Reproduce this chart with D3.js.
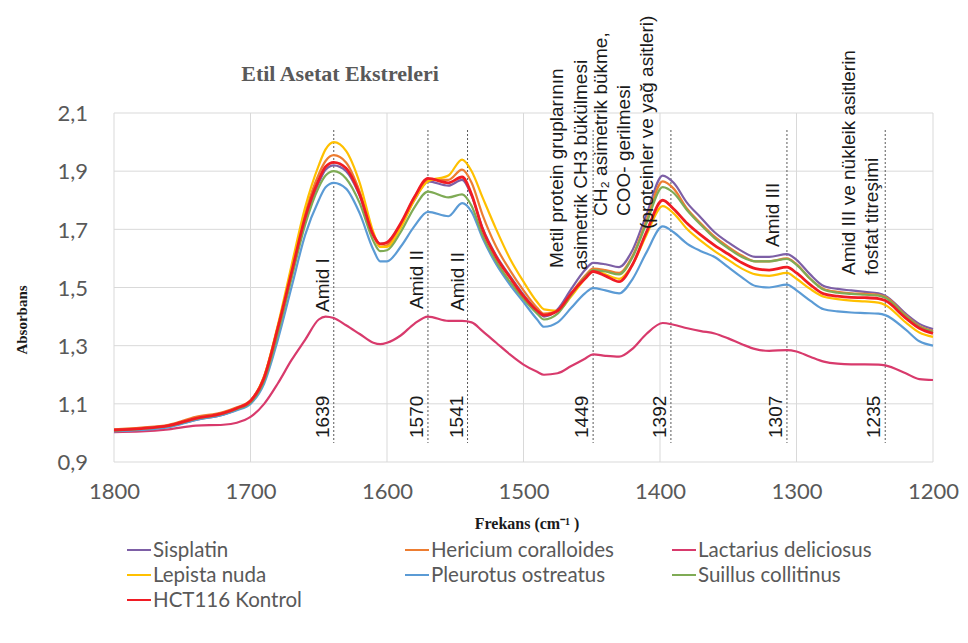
<!DOCTYPE html>
<html>
<head>
<meta charset="utf-8">
<script src="https://cdn.jsdelivr.net/npm/d3@7"></script>
<style>
  body { margin: 0; background: #fff; }
  svg { display: block; }
</style>
</head>
<body>
<svg width="968" height="643"></svg>
<script>
// wavenumbers (cm-1)
var frekans = [1800, 1780, 1760, 1740, 1720, 1710, 1700, 1690, 1680, 1670, 1660, 1650, 1645, 1639,
  1630, 1620, 1610, 1605, 1600, 1590, 1580, 1570, 1555, 1545, 1538, 1530, 1520, 1510, 1500, 1490,
  1485, 1475, 1465, 1455, 1449, 1440, 1430, 1420, 1410, 1398, 1390, 1380, 1370, 1360, 1350, 1340,
  1330, 1320, 1307, 1300, 1290, 1280, 1270, 1260, 1250, 1240, 1235, 1220, 1210, 1200];

var sisplatin = [1.005, 1.012, 1.022, 1.045, 1.063, 1.080, 1.105, 1.185, 1.350, 1.540, 1.730, 1.860, 1.905, 1.920,
  1.900, 1.815, 1.680, 1.650, 1.655, 1.715, 1.800, 1.865, 1.850, 1.870, 1.815, 1.705, 1.610, 1.540, 1.475, 1.420,
  1.400, 1.425, 1.495, 1.560, 1.585, 1.580, 1.570, 1.630, 1.750, 1.885, 1.860, 1.790, 1.740, 1.690, 1.655, 1.625,
  1.605, 1.605, 1.615, 1.595, 1.545, 1.505, 1.495, 1.490, 1.485, 1.480, 1.472, 1.410, 1.375, 1.357];

var hericium = [1.012, 1.018, 1.028, 1.055, 1.072, 1.088, 1.112, 1.195, 1.365, 1.560, 1.755, 1.890, 1.935, 1.955,
  1.930, 1.830, 1.680, 1.640, 1.645, 1.715, 1.810, 1.870, 1.870, 1.905, 1.860, 1.750, 1.640, 1.560, 1.490, 1.430,
  1.410, 1.420, 1.480, 1.540, 1.565, 1.560, 1.550, 1.610, 1.730, 1.865, 1.840, 1.770, 1.720, 1.675, 1.640, 1.610,
  1.590, 1.590, 1.600, 1.580, 1.530, 1.495, 1.485, 1.480, 1.478, 1.475, 1.468, 1.405, 1.368, 1.350];

var lactarius = [1.003, 1.005, 1.012, 1.025, 1.028, 1.035, 1.055, 1.100, 1.170, 1.250, 1.320, 1.390, 1.400, 1.395,
  1.370, 1.340, 1.310, 1.305, 1.310, 1.335, 1.375, 1.400, 1.385, 1.385, 1.380, 1.350, 1.310, 1.270, 1.235, 1.210,
  1.200, 1.205, 1.230, 1.255, 1.270, 1.265, 1.262, 1.290, 1.340, 1.378, 1.372, 1.360, 1.350, 1.342, 1.325, 1.305,
  1.288, 1.282, 1.285, 1.280, 1.262, 1.245, 1.238, 1.236, 1.236, 1.235, 1.232, 1.205, 1.185, 1.182];

var lepista = [1.008, 1.014, 1.024, 1.050, 1.068, 1.085, 1.110, 1.195, 1.370, 1.575, 1.775, 1.920, 1.975, 2.000,
  1.970, 1.860, 1.690, 1.640, 1.640, 1.705, 1.800, 1.865, 1.885, 1.940, 1.900, 1.810, 1.700, 1.600, 1.520, 1.450,
  1.425, 1.420, 1.470, 1.530, 1.560, 1.545, 1.530, 1.580, 1.680, 1.780, 1.755, 1.700, 1.660, 1.625, 1.595, 1.565,
  1.545, 1.540, 1.550, 1.530, 1.495, 1.468, 1.460, 1.455, 1.452, 1.448, 1.440, 1.380, 1.345, 1.330];

var pleurotus = [1.005, 1.010, 1.020, 1.045, 1.063, 1.078, 1.100, 1.170, 1.320, 1.500, 1.680, 1.800, 1.845, 1.860,
  1.840, 1.755, 1.630, 1.590, 1.590, 1.640, 1.710, 1.760, 1.745, 1.790, 1.760, 1.670, 1.580, 1.510, 1.450, 1.390,
  1.365, 1.380, 1.430, 1.480, 1.498, 1.490, 1.480, 1.530, 1.620, 1.710, 1.690, 1.650, 1.625, 1.605, 1.570, 1.535,
  1.505, 1.500, 1.510, 1.490, 1.455, 1.425, 1.418, 1.414, 1.412, 1.410, 1.405, 1.355, 1.315, 1.300];

var suillus = [1.008, 1.014, 1.024, 1.048, 1.066, 1.082, 1.105, 1.180, 1.340, 1.530, 1.715, 1.845, 1.885, 1.900,
  1.875, 1.790, 1.660, 1.625, 1.628, 1.690, 1.775, 1.830, 1.810, 1.820, 1.780, 1.680, 1.590, 1.520, 1.460, 1.410,
  1.390, 1.410, 1.475, 1.535, 1.560, 1.555, 1.545, 1.605, 1.720, 1.845, 1.825, 1.765, 1.715, 1.670, 1.635, 1.605,
  1.590, 1.590, 1.598, 1.578, 1.530, 1.492, 1.482, 1.478, 1.475, 1.472, 1.465, 1.402, 1.365, 1.348];

var kontrol = [1.010, 1.015, 1.025, 1.050, 1.068, 1.085, 1.110, 1.190, 1.360, 1.550, 1.740, 1.870, 1.915, 1.930,
  1.910, 1.820, 1.680, 1.650, 1.655, 1.720, 1.810, 1.875, 1.860, 1.880, 1.820, 1.700, 1.605, 1.535, 1.470, 1.420,
  1.405, 1.420, 1.480, 1.530, 1.555, 1.540, 1.520, 1.580, 1.690, 1.800, 1.770, 1.720, 1.680, 1.645, 1.615, 1.585,
  1.565, 1.560, 1.570, 1.550, 1.510, 1.478, 1.470, 1.466, 1.465, 1.462, 1.455, 1.395, 1.360, 1.342];

var seriAdlari = ['Sisplatin', 'Hericium coralloides', 'Lactarius deliciosus', 'Lepista nuda',
  'Pleurotus ostreatus', 'Suillus collitinus', 'HCT116 Kontrol'];

// marked bands and their notes
var bantlar = [1639, 1570, 1541, 1449, 1392, 1307, 1235];
var bantNotlari = [
  ['Amid I'],
  ['Amid II'],
  ['Amid II'],
  ['Metil protein gruplarının', 'asimetrik CH3 bükülmesi'],
  ['CH\u2082 asimetrik bükme,', 'COO- gerilmesi', '(proteinler ve yağ asitleri)'],
  ['Amid III'],
  ['Amid III ve nükleik asitlerin', 'fosfat titreşimi']
];

var xTicks = [1800, 1700, 1600, 1500, 1400, 1300, 1200];
var yTicks = [0.9, 1.1, 1.3, 1.5, 1.7, 1.9, 2.1];

var width = 968, height = 643;
var margin = {top: 113, right: 35, bottom: 181, left: 114};

var renkler = ['#7d5fa6', '#ed7d31', '#d83a6c', '#ffc000', '#5b9bd5', '#7fab55', '#f01c24'];
var kalinlik = [2.2, 2.2, 2.2, 2.2, 2.2, 2.2, 2.8];

var seriler = [sisplatin, hericium, lactarius, lepista, pleurotus, suillus, kontrol].map((d, i) => ({
  ad: seriAdlari[i],
  renk: renkler[i],
  kalinlik: kalinlik[i],
  noktalar: frekans.map((f, j) => ({f: f, a: d[j]}))
}));

var svg = d3.select('svg');

var xScale = d3.scaleLinear()
  .domain([1800, 1200])
  .range([margin.left, width - margin.right]);

var yScale = d3.scaleLinear()
  .domain([0.9, 2.1])
  .range([height - margin.bottom, margin.top]);

var tickFont = 'Lato, "Open Sans", sans-serif';
var serif = '"Liberation Serif", "Times New Roman", serif';
var sans = '"Liberation Sans", Arial, sans-serif';

// grid
svg.append('g')
  .selectAll('line')
  .data(yTicks)
  .join('line')
  .attr('x1', xScale(1800)).attr('x2', xScale(1200))
  .attr('y1', d => yScale(d)).attr('y2', d => yScale(d))
  .attr('stroke', '#d9d9d9').attr('stroke-width', 1);

svg.append('g')
  .selectAll('line')
  .data(xTicks)
  .join('line')
  .attr('x1', d => xScale(d)).attr('x2', d => xScale(d))
  .attr('y1', yScale(2.1)).attr('y2', yScale(0.9))
  .attr('stroke', '#d9d9d9').attr('stroke-width', 1);

// axes (labels only, Excel style)
var xAxis = d3.axisBottom(xScale).tickValues(xTicks).tickSize(0).tickPadding(0).tickFormat(d3.format('d'));
var gx = svg.append('g')
  .attr('transform', 'translate(' + [0, yScale(0.9)] + ')')
  .call(xAxis);
gx.select('.domain').remove();
gx.selectAll('text')
  .attr('y', 37).attr('dy', 0)
  .attr('fill', '#595959')
  .style('font-family', tickFont).style('font-size', '22px');

var yAxis = d3.axisLeft(yScale).tickValues(yTicks).tickSize(0).tickPadding(0)
  .tickFormat(d => d3.format('.1f')(d).replace('.', ','));
var gy = svg.append('g')
  .attr('transform', 'translate(' + [88, 0] + ')')
  .call(yAxis);
gy.select('.domain').remove();
gy.selectAll('text')
  .attr('x', 0).attr('dy', '0.35em')
  .attr('fill', '#595959')
  .style('font-family', tickFont).style('font-size', '22px');

// dashed band markers
var bandTop = 130, bandBottom = 443;
svg.append('g')
  .selectAll('line')
  .data(bantlar)
  .join('line')
  .attr('x1', d => xScale(d)).attr('x2', d => xScale(d))
  .attr('y1', bandTop).attr('y2', bandBottom)
  .attr('stroke', '#595959').attr('stroke-width', 1)
  .attr('stroke-dasharray', '2,2');

// spectra
var line = d3.line()
  .x(d => xScale(d.f))
  .y(d => yScale(d.a))
  .curve(d3.curveMonotoneX);

svg.append('g')
  .selectAll('path')
  .data(seriler)
  .join('path')
  .attr('d', d => line(d.noktalar))
  .attr('fill', 'none')
  .attr('stroke', d => d.renk)
  .attr('stroke-width', d => d.kalinlik)
  .attr('stroke-linejoin', 'round');

// band numbers
svg.append('g')
  .selectAll('text')
  .data(bantlar)
  .join('text')
  .attr('transform', d => 'translate(' + [xScale(d) - 5, 438] + ') rotate(-90)')
  .attr('fill', '#1a1a1a')
  .style('font-family', sans).style('font-size', '19px')
  .text(d => d);

// band notes: per line offset from the marker and bottom end
var notYerleri = [
  {dx: [-5], y: [312]},
  {dx: [-5], y: [309]},
  {dx: [-4], y: [311]},
  {dx: [-30, -6], y: [268, 270]},
  {dx: [-64, -41, -18], y: [216, 216, 229]},
  {dx: [-8], y: [247]},
  {dx: [-30, -7], y: [275, 275]}
];

bantNotlari.forEach((satirlar, i) => {
  satirlar.forEach((s, k) => {
    var x = xScale(bantlar[i]) + notYerleri[i].dx[k];
    svg.append('text')
      .attr('transform', 'translate(' + [x, notYerleri[i].y[k]] + ') rotate(-90)')
      .attr('fill', '#1a1a1a')
      .style('font-family', sans).style('font-size', '19px')
      .text(s);
  });
});

// titles
svg.append('text')
  .attr('x', 340).attr('y', 81)
  .attr('text-anchor', 'middle')
  .attr('fill', '#595959')
  .style('font-family', serif).style('font-size', '22px').style('font-weight', 'bold')
  .text('Etil Asetat Ekstreleri');

svg.append('text')
  .attr('transform', 'translate(' + [27, 320] + ') rotate(-90)')
  .attr('text-anchor', 'middle')
  .attr('fill', '#1a1a1a')
  .style('font-family', serif).style('font-size', '15px').style('font-weight', 'bold')
  .text('Absorbans');

svg.append('text')
  .attr('x', 527).attr('y', 529)
  .attr('text-anchor', 'middle')
  .attr('fill', '#1a1a1a')
  .style('font-family', serif).style('font-size', '16px').style('font-weight', 'bold')
  .text('Frekans (cm\u207B\u00B9 )');

// legend, three columns
var legX = [127, 405, 672], legY = [550, 575, 600];
var leg = svg.append('g')
  .selectAll('g')
  .data(seriler)
  .join('g')
  .attr('transform', (d, i) => 'translate(' + [legX[i % 3], legY[Math.floor(i / 3)]] + ')');

leg.append('line')
  .attr('x1', 0).attr('x2', 24)
  .attr('stroke', d => d.renk).attr('stroke-width', 2);

leg.append('text')
  .attr('x', 26).attr('dy', '0.35em')
  .attr('fill', '#595959')
  .style('font-family', tickFont).style('font-size', '20.5px')
  .text(d => d.ad);
</script>
</body>
</html>
